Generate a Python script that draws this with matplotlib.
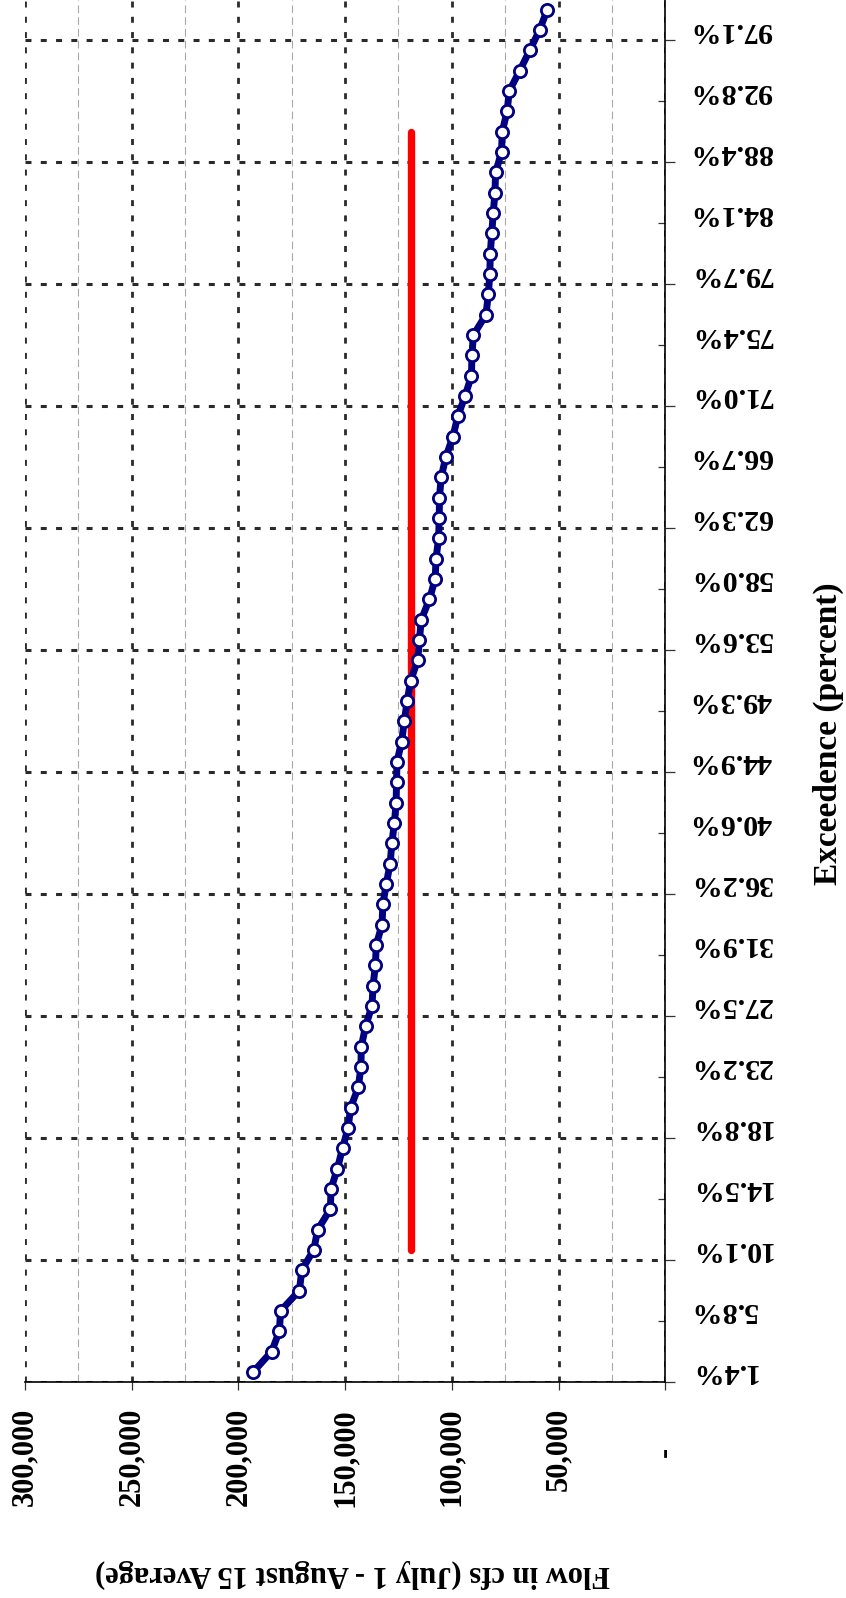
import matplotlib
matplotlib.use('Agg')
import matplotlib.pyplot as plt
import matplotlib.transforms as mtransforms

# --- Data ---
# July 1 - Aug 15 average flow, ranked high to low (68 years)
flow_cfs = [193000, 184400, 180800, 180200, 171400, 170300, 164700, 162800,
            156900, 156600, 153600, 151200, 148600, 147400, 143800, 142600,
            142400, 140400, 137400, 136900, 135800, 135400, 132700, 132300,
            130700, 128900, 128100, 126900, 126100, 125900, 125700, 123500,
            122300, 120900, 119300, 116000, 115200, 114300, 110500, 107800,
            107400, 106200, 105900, 105800, 105000, 102800, 99500, 97200,
            93800, 90800, 90600, 89900, 84000, 82900, 82200, 82000,
            81300, 80600, 79800, 79500, 76700, 76400, 74100, 73100,
            68200, 63500, 58900, 55300]

exceed_labels = ['1.4%', '5.8%', '10.1%', '14.5%', '18.8%', '23.2%', '27.5%',
                 '31.9%', '36.2%', '40.6%', '44.9%', '49.3%', '53.6%', '58.0%',
                 '62.3%', '66.7%', '71.0%', '75.4%', '79.7%', '84.1%', '88.4%',
                 '92.8%', '97.1%']

flow_ticks = [300000, 250000, 200000, 150000, 100000, 50000, 0]
flow_tick_labels = ['300,000', '250,000', '200,000', '150,000', '100,000', '50,000', '-']

ref_flow = 119000          # red reference line
ref_cats = [6, 61]         # 10.1% .. 89.9% exceedence

# --- Setup ---
plt.rcParams['font.family'] = ['Liberation Serif', 'DejaVu Serif']
plt.rcParams['font.weight'] = 'bold'
plt.rcParams['lines.scale_dashes'] = False

W, H = 846, 1598
fig = plt.figure(figsize=(W / 100, H / 100), dpi=100)

n = len(flow_cfs)
ax_left, ax_right, ax_bottom = 24.9, 665.3, 1382.0
cat_h = 20.33
ax = fig.add_axes([ax_left / W, 1 - ax_bottom / H,
                   (ax_right - ax_left) / W, n * cat_h / H])

cats = list(range(n))
ax.plot([ref_flow, ref_flow], ref_cats, color='red', lw=5.3,
        solid_capstyle='round', zorder=3)
ax.plot(flow_cfs, cats, color='#000080', lw=5.0, marker='o', ms=8.8,
        mfc='white', mec='#000080', mew=2.0, zorder=4)

ax.set_xlim(300000, 0)
ax.set_ylim(-0.5, n - 0.5)

for s in ['top', 'left']:
    ax.spines[s].set_visible(False)
for s in ['bottom', 'right']:
    ax.spines[s].set_color('black')
    ax.spines[s].set_linewidth(1.2)

# flow axis ticks / grid
ax.set_xticks(flow_ticks)
ax.set_xticks([275000, 225000, 175000, 125000, 75000, 25000], minor=True)
ax.tick_params(axis='x', which='major', direction='out', length=6, width=0.9,
               colors='#333333', labelbottom=False)
ax.tick_params(axis='x', which='minor', length=0)
ax.grid(True, axis='x', which='major', color='#2a2a2a', lw=2.0,
        linestyle=(0, (4.3, 6.7)))
ax.grid(True, axis='x', which='minor', color='#a8a8a8', lw=0.8,
        linestyle=(0, (5.5, 3.0)))

# exceedence axis ticks / grid (ticks between categories)
ax.yaxis.tick_right()
ax.set_yticks([b - 0.5 for b in range(0, n, 6)])
ax.set_yticks([b - 0.5 for b in range(3, n, 6)], minor=True)
ax.tick_params(axis='y', which='major', direction='out', length=7.2, width=0.9,
               colors='#333333', labelright=False, right=True)
ax.tick_params(axis='y', which='minor', direction='in', length=5, width=0.9,
               colors='#333333', right=True)
ax.grid(True, axis='y', which='major', color='#2a2a2a', lw=2.2,
        linestyle=(0, (4.3, 6.7)))
ax.set_axisbelow(True)

# exceedence labels (drawn upside down, as in the scanned chart)
tr_y = mtransforms.blended_transform_factory(fig.transFigure, ax.transData)
for i, lab in enumerate(exceed_labels):
    ax.text(690 / W, i * 3, lab, transform=tr_y, rotation=180,
            ha='left', va='center', fontsize=21.5, fontweight='bold')

# flow labels (vertical)
tr_x = mtransforms.blended_transform_factory(ax.transData, fig.transFigure)
for v, lab in zip(flow_ticks, flow_tick_labels):
    if lab == '-':
        ax.text(v, 1 - 1452 / H, lab, transform=tr_x, rotation=90,
                ha='center', va='center', fontsize=22, fontweight='bold')
    else:
        ax.text(v, 1 - 1408 / H, lab, transform=tr_x, rotation=90,
                ha='center', va='top', fontsize=22, fontweight='bold')

fig.text(828 / W, 1 - 734 / H, 'Exceedence (percent)', rotation=90,
         ha='center', va='center', fontsize=24, fontweight='bold')
fig.text(352 / W, 1 - 1574 / H, 'Flow in cfs (July 1 - August 15 Average)',
         rotation=180, ha='center', va='center', fontsize=22, fontweight='bold')

fig.savefig('out.png', dpi=100)
